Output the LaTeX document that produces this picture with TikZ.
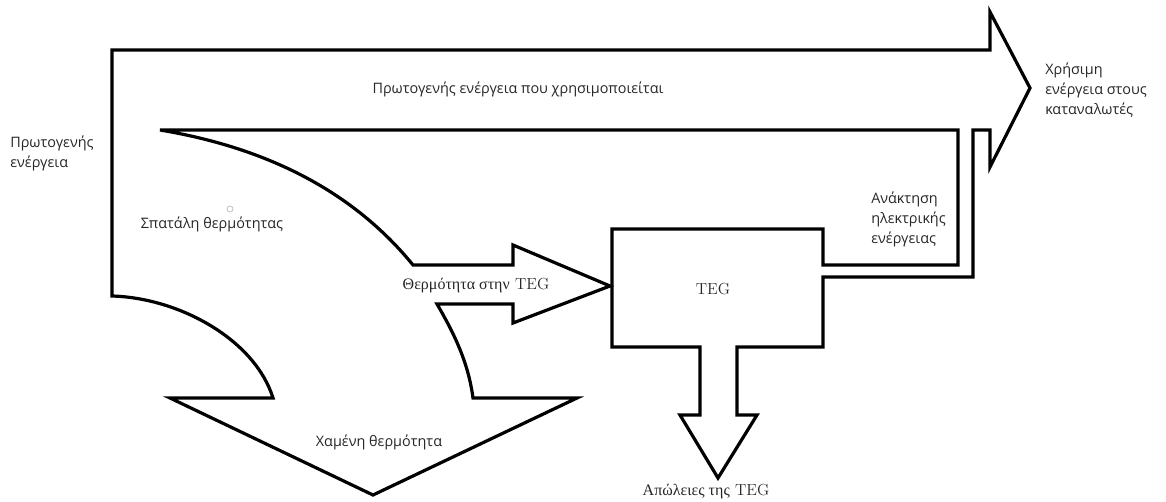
\documentclass[tikz,border=0pt]{standalone}
\usepackage{fontspec}
\newfontfamily\grsans{Open Sans}
\newfontfamily\grserif{Liberation Serif}
\begin{document}
\begin{tikzpicture}[x=0.75pt,y=-0.75pt,
  flow/.style={draw=black,line width=2.4pt,line join=miter},
  sanslbl/.style={font=\grsans\fontsize{10.8}{15}\selectfont,inner sep=0pt,text=black!85},
  seriflbl/.style={font=\fontsize{12}{14}\selectfont,inner sep=0pt,text=black!85}]
\useasboundingbox (0,0) rectangle (1166,502);
\draw[flow] (112,50) -- (990,50) -- (990,12) -- (1030,88) -- (990,167) -- (990,130)
  -- (973,130) -- (973,277) -- (823,277) -- (823,347) -- (737,347) -- (737,415)
  -- (757,415) -- (718,478) -- (680,415) -- (700,415) -- (700,347) -- (612,347)
  -- (612,229) -- (823,229) -- (823,265) -- (958,265) -- (958,130) -- (160,130)
  .. controls (280,150) and (360,200) .. (413,265) -- (513,265) -- (513,245)
  -- (610,286) -- (513,323) -- (513,304) -- (437,304)
  .. controls (452,330) and (468,360) .. (473,398) -- (577,398) -- (373,495)
  -- (170,398) -- (273,398) .. controls (255,340) and (180,298) .. (112,296) -- cycle;
\draw[black!25,line width=0.6pt] (230,209) circle (3);
\node[sanslbl,align=left,anchor=west] (prim) at (10,153) {Πρωτογενής\\ενέργεια};
\node[sanslbl] (used) at (518,89) {Πρωτογενής ενέργεια που χρησιμοποιείται};
\node[sanslbl] (waste) at (212,224) {Σπατάλη θερμότητας};
\node[seriflbl] (toteg) at (476,286) {{\grserif Θερμότητα στην} TEG};
\node[seriflbl] (teg) at (713,289) {TEG};
\node[sanslbl,align=left,anchor=west] (rec) at (871,219) {Ανάκτηση\\ηλεκτρικής\\ενέργειας};
\node[sanslbl,align=left,anchor=west] (useful) at (1045,90) {Χρήσιμη\\ενέργεια στους\\καταναλωτές};
\node[sanslbl] (lost) at (379,442) {Χαμένη θερμότητα};
\node[seriflbl] (teglos) at (706,492) {{\grserif Απώλειες της} TEG};
\end{tikzpicture}
\end{document}
